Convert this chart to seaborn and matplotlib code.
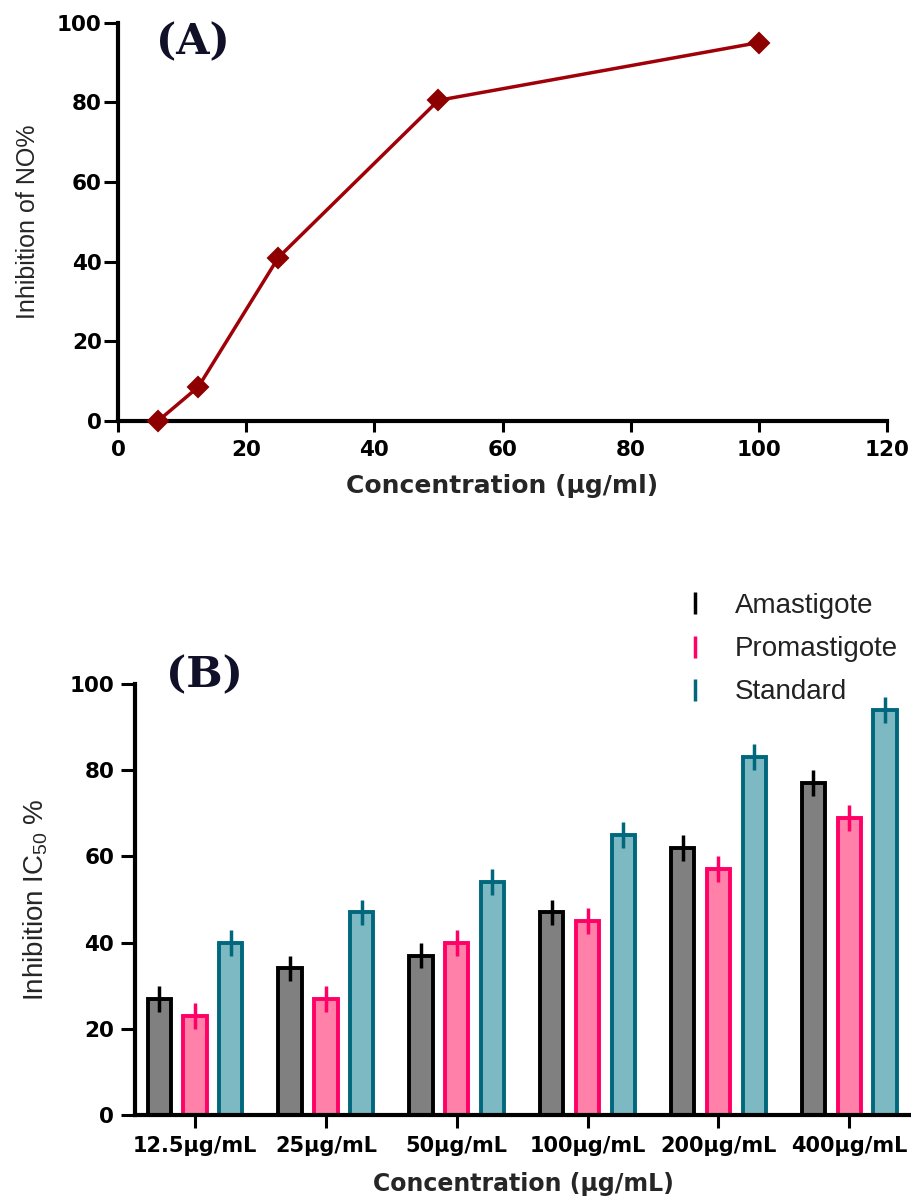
import numpy as np
import pandas as pd
import matplotlib
matplotlib.use("Agg")
import matplotlib.pyplot as plt
import seaborn as sns
from matplotlib.lines import Line2D

# ---------------- Panel A data ----------------
conc_a = [6.25, 12.5, 25, 50, 100]
no_inhibition = [0, 8.5, 41, 80.5, 95]
xticks_a = [0, 20, 40, 60, 80, 100, 120]
yticks = [0, 20, 40, 60, 80, 100]

# ---------------- Panel B data ----------------
conc_labels = ["12.5µg/mL", "25µg/mL", "50µg/mL", "100µg/mL", "200µg/mL", "400µg/mL"]
groups = ["Amastigote", "Promastigote", "Standard"]
amastigote = [27, 34, 37, 47, 62, 77]
promastigote = [23, 27, 40, 45, 57, 69]
standard = [40, 47, 54, 65, 83, 94]
err_amastigote = [3, 3, 3, 3, 3, 3]
err_promastigote = [3, 3, 3, 3, 3, 3]
err_standard = [3, 3, 3, 3, 3, 3]

fill_colors = {"Amastigote": "#808080", "Promastigote": "#FF80A9", "Standard": "#7CB9C2"}
edge_colors = {"Amastigote": "#000000", "Promastigote": "#FF0066", "Standard": "#00677C"}

sns.set_theme(style="ticks")
plt.rcParams.update({
    "font.family": ["DejaVu Sans"],
    "axes.linewidth": 3,
    "axes.edgecolor": "black",
    "xtick.color": "black",
    "ytick.color": "black",
    "mathtext.fontset": "custom",
    "mathtext.rm": "Liberation Sans",
    "mathtext.it": "Liberation Sans:italic",
    "mathtext.bf": "Liberation Sans:bold",
    "mathtext.default": "rm",
})

W, H = 912, 1201
fig = plt.figure(figsize=(W / 100, H / 100), dpi=100)

# ================= Panel A =================
axA = fig.add_axes([118.3 / W, 1 - 420.7 / H, 768.4 / W, 398 / H])
sns.lineplot(x=conc_a, y=no_inhibition, ax=axA, color="#A00008", linewidth=2.5,
             marker="D", markersize=10, markerfacecolor="#8E0000",
             markeredgecolor="#8E0000", markeredgewidth=1.5)
for ln in axA.lines:
    ln.set_clip_on(False)
    ln.set_zorder(5)
axA.set_xlim(0, 120)
axA.set_ylim(0, 100)
axA.set_xticks(xticks_a)
axA.set_yticks(yticks)
sns.despine(ax=axA)
axA.tick_params(axis="both", width=2.2, direction="out")
axA.tick_params(axis="y", length=10, pad=2)
axA.tick_params(axis="x", length=8, pad=6)
for lbl in axA.get_xticklabels() + axA.get_yticklabels():
    lbl.set_fontweight("bold")
    lbl.set_fontsize(15.5)
axA.set_xlabel("Concentration (µg/ml)", fontsize=18, fontweight="bold", labelpad=10)
axA.set_ylabel("Inhibition of NO%", fontsize=18, family="Liberation Sans", labelpad=12)
axA.grid(False)

fig.text(193 / W, 1 - 42 / H, "(A)", family="DejaVu Serif", fontweight="bold",
         fontsize=31, color="#101028", ha="center", va="center")

# ================= Panel B =================
axB = fig.add_axes([135 / W, 1 - 1115 / H, (W - 135) / W, (1115 - 684) / H])
df = pd.DataFrame({
    "conc": conc_labels * 3,
    "group": np.repeat(groups, len(conc_labels)),
    "value": amastigote + promastigote + standard,
})
sns.barplot(data=df, x="conc", y="value", hue="group", hue_order=groups,
            palette=fill_colors, saturation=1, width=0.82, gap=0.35,
            errorbar=None, linewidth=2.8, legend=False, ax=axB)
errs = {"Amastigote": err_amastigote, "Promastigote": err_promastigote,
        "Standard": err_standard}
for cont, g in zip(axB.containers, groups):
    xs, ys = [], []
    for bar in cont:
        bar.set_edgecolor(edge_colors[g])
        xs.append(bar.get_x() + bar.get_width() / 2)
        ys.append(bar.get_height())
    axB.errorbar(xs, ys, yerr=errs[g], fmt="none", ecolor=edge_colors[g],
                 elinewidth=2.5, capsize=0, zorder=4)
axB.set_xlim(-0.459, 5.48)
axB.set_ylim(0, 100)
axB.set_yticks(yticks)
sns.despine(ax=axB)
axB.tick_params(axis="both", width=2.2, direction="out")
axB.tick_params(axis="y", length=10, pad=5)
axB.tick_params(axis="x", length=9, pad=6)
for lbl in axB.get_xticklabels():
    lbl.set_fontweight("bold")
    lbl.set_fontsize(15)
for lbl in axB.get_yticklabels():
    lbl.set_fontweight("bold")
    lbl.set_fontsize(15.5)
axB.set_xlabel("Concentration (µg/mL)", fontsize=17, fontweight="bold", labelpad=12)
axB.set_ylabel("Inhibition IC$_{50}$ %", fontsize=20, family="Liberation Sans", labelpad=14)
axB.grid(False)

handles = [Line2D([], [], color=edge_colors[g], marker="|", linestyle="None",
                  markersize=16, markeredgewidth=2.5) for g in groups]
fig.legend(handles, groups, loc="upper left", bbox_to_anchor=(681 / W, 1 - 593 / H),
           frameon=False, handlelength=1.0, handletextpad=0.93, labelspacing=0.62,
           borderpad=0, borderaxespad=0,
           prop={"family": "Liberation Sans", "size": 20}, labelcolor="#222222")

fig.text(205 / W, 1 - 675 / H, "(B)", family="DejaVu Serif", fontweight="bold",
         fontsize=31, color="#101028", ha="center", va="center")

fig.savefig("out.png", dpi=100)
